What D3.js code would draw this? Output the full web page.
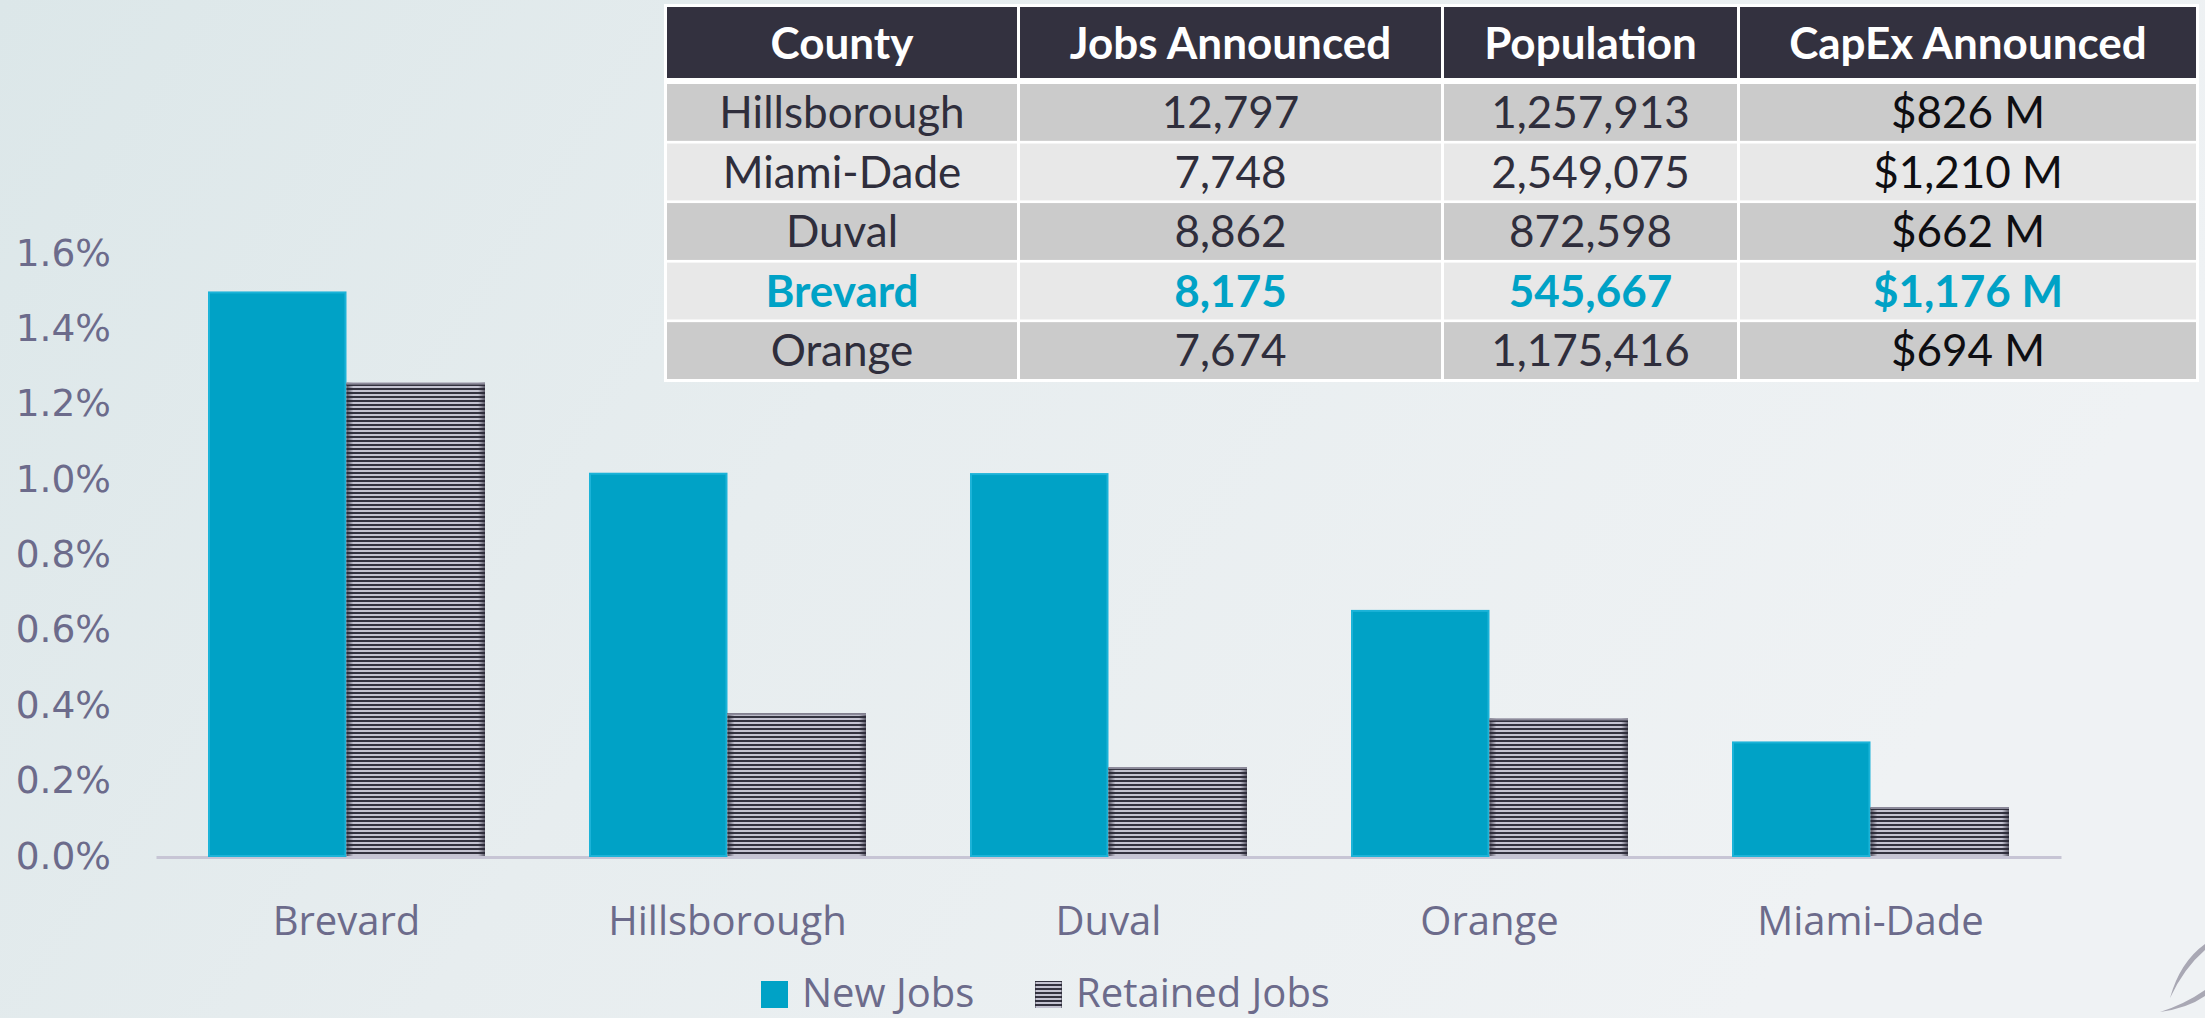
<!DOCTYPE html>
<html><head><meta charset="utf-8">
<script src="https://cdn.jsdelivr.net/npm/d3@7"></script>
<style>
html,body{margin:0;padding:0;overflow:hidden;background:#e8eef0}
svg{display:block}
</style></head><body>
<svg id="chart" width="2205" height="1018"></svg>
<script>
// Job announcements per capita by county — grouped bars + summary table
const counties = ['Brevard', 'Hillsborough', 'Duval', 'Orange', 'Miami-Dade'];
const newJobs = [1.498, 1.017, 1.016, 0.653, 0.304];
const retainedJobs = [1.256, 0.379, 0.236, 0.365, 0.130];
const seriesKeys = ['new', 'retained'];
const seriesNames = ['New Jobs', 'Retained Jobs'];
const yTicks = [0, 0.2, 0.4, 0.6, 0.8, 1.0, 1.2, 1.4, 1.6];

const tableHead = ['County', 'Jobs Announced', 'Population', 'CapEx Announced'];
const tableCounty = ['Hillsborough', 'Miami-Dade', 'Duval', 'Brevard', 'Orange'];
const tableJobs = ['12,797', '7,748', '8,862', '8,175', '7,674'];
const tablePop = ['1,257,913', '2,549,075', '872,598', '545,667', '1,175,416'];
const tableCapex = ['$826 M', '$1,210 M', '$662 M', '$1,176 M', '$694 M'];
const highlight = 'Brevard';

const W = 2205, H = 1018;
const TEAL = '#00a2c6', INK = '#6c6b8b';
const svg = d3.select('#chart');
const defs = svg.append('defs');

// background wash
const bg = defs.append('linearGradient').attr('id', 'bg').attr('x1', 0).attr('x2', 1).attr('y1', 0).attr('y2', 0.3);
[[0, '#dce7e9'], [0.45, '#e7edef'], [1, '#eff2f4']].forEach(([o, c]) => bg.append('stop').attr('offset', o).attr('stop-color', c));
svg.append('rect').attr('width', W).attr('height', H).attr('fill', 'url(#bg)');

// striped fill for retained jobs
const pat = defs.append('pattern').attr('id', 'stripes').attr('patternUnits', 'userSpaceOnUse').attr('width', 8).attr('height', 4);
pat.append('rect').attr('width', 8).attr('height', 4).attr('fill', '#c4c3d1');
pat.append('rect').attr('width', 8).attr('height', 2).attr('fill', '#33323f');
const edge = defs.append('linearGradient').attr('id', 'edge');
[[0, 0.7], [0.05, 0], [0.95, 0], [1, 0.7]].forEach(([o, a]) =>
  edge.append('stop').attr('offset', o).attr('stop-color', '#2a2836').attr('stop-opacity', a));

// scales
const x0 = d3.scaleBand().domain(counties).range([156, 2061]).paddingInner(0.273).paddingOuter(0.1365);
const x1 = d3.scaleBand().domain(seriesKeys).range([0, x0.bandwidth()]);
const y = d3.scaleLinear().domain([0, 1.6]).range([856, 253]);

// y axis (labels only)
svg.append('g').attr('transform', 'translate(111,0)')
  .call(d3.axisLeft(y).tickValues(yTicks).tickSize(0).tickPadding(0).tickFormat(d => d3.format('.1f')(d) + '%'))
  .call(g => g.select('.domain').remove())
  .selectAll('text').attr('font-family', 'DejaVu Sans, Verdana, sans-serif').attr('font-size', 37.5).attr('fill', INK);

// x axis
const xa = svg.append('g').attr('transform', 'translate(0,857)')
  .call(d3.axisBottom(x0).tickSize(0).tickSizeOuter(0).tickPadding(50));
xa.select('.domain').attr('stroke', '#c7c5d5').attr('stroke-width', 3);
xa.selectAll('text').attr('font-family', 'Open Sans, sans-serif').attr('font-size', 40).attr('fill', INK);

// bars
const rows = counties.map((c, i) => ({county: c, vals: [{k: 'new', v: newJobs[i]}, {k: 'retained', v: retainedJobs[i]}]}));
const grp = svg.append('g').selectAll('g').data(rows).join('g').attr('transform', d => `translate(${x0(d.county)},0)`);
grp.selectAll('g').data(d => d.vals).join('g').each(function (d) {
  const g = d3.select(this), bx = x1(d.k), by = y(d.v), bw = x1.bandwidth(), bh = y(0) - y(d.v);
  if (d.k === 'new') {
    g.append('rect').attr('x', bx + 1).attr('y', by + 1).attr('width', bw - 2).attr('height', bh - 1)
      .attr('fill', TEAL).attr('stroke', '#1cb3d8').attr('stroke-width', 2);
  } else {
    g.append('rect').attr('x', bx).attr('y', by).attr('width', bw).attr('height', bh).attr('fill', 'url(#stripes)');
    g.append('rect').attr('x', bx).attr('y', by).attr('width', bw).attr('height', bh).attr('fill', 'url(#edge)');
    g.append('rect').attr('x', bx).attr('y', by).attr('width', bw).attr('height', 2).attr('fill', '#8c8a9a');
  }
});

// legend
const legX = [761, 1035];
const leg = svg.append('g').selectAll('g').data(seriesNames).join('g').attr('transform', (d, i) => `translate(${legX[i]},0)`);
leg.append('rect').attr('x', 0).attr('y', 981).attr('width', 27).attr('height', 27)
  .attr('fill', (d, i) => i === 0 ? TEAL : 'url(#stripes)');
leg.filter((d, i) => i === 1).append('rect').attr('y', 981).attr('width', 27).attr('height', 27).attr('fill', 'url(#edge)');
leg.append('text').attr('x', 41).attr('y', 1007).text(d => d)
  .attr('font-family', 'Open Sans, sans-serif').attr('font-size', 40).attr('fill', INK);

// table
const colEdges = [[667, 1017], [1020, 1441], [1444, 1737], [1740, 2196]];
const rowY = d3.scaleBand().domain(d3.range(tableCounty.length)).range([84, 379]).paddingInner(0.045);
const T = svg.append('g').attr('font-family', 'Lato, Carlito, sans-serif').attr('font-size', 44).attr('text-anchor', 'middle');
T.append('rect').attr('x', 664).attr('y', 4).attr('width', 2199 - 664).attr('height', 382 - 4).attr('fill', '#ffffff');
tableHead.forEach((h, c) => {
  const [a, b] = colEdges[c];
  T.append('rect').attr('x', a).attr('y', 7).attr('width', b - a).attr('height', 71).attr('fill', '#33313f');
  T.append('text').attr('x', (a + b) / 2).attr('y', 43).attr('dy', '0.36em').attr('fill', '#fff').attr('font-weight', 700).text(h);
});
const cols = [tableCounty, tableJobs, tablePop, tableCapex];
tableCounty.forEach((name, r) => {
  const hl = name === highlight;
  cols.forEach((col, c) => {
    const [a, b] = colEdges[c];
    T.append('rect').attr('x', a).attr('y', rowY(r)).attr('width', b - a).attr('height', rowY.bandwidth())
      .attr('fill', r % 2 === 0 ? '#cbcbcb' : '#e8e8e8');
    T.append('text').attr('x', (a + b) / 2).attr('y', rowY(r) + rowY.bandwidth() / 2).attr('dy', '0.36em')
      .attr('fill', hl ? TEAL : (c === 3 ? '#0e0e12' : '#2f2e3c')).attr('font-weight', hl ? 700 : 400).text(col[r]);
  });
});

// corner swoosh
svg.append('path').attr('d', 'M2170,998 Q2180,962 2205,944 L2205,950 Q2184,968 2170,998 Z').attr('fill', '#a9a8b4');
svg.append('path').attr('d', 'M2160,1012 Q2185,1004 2205,990 L2205,996 Q2188,1008 2160,1012 Z').attr('fill', '#a9a8b4');
</script></body></html>
